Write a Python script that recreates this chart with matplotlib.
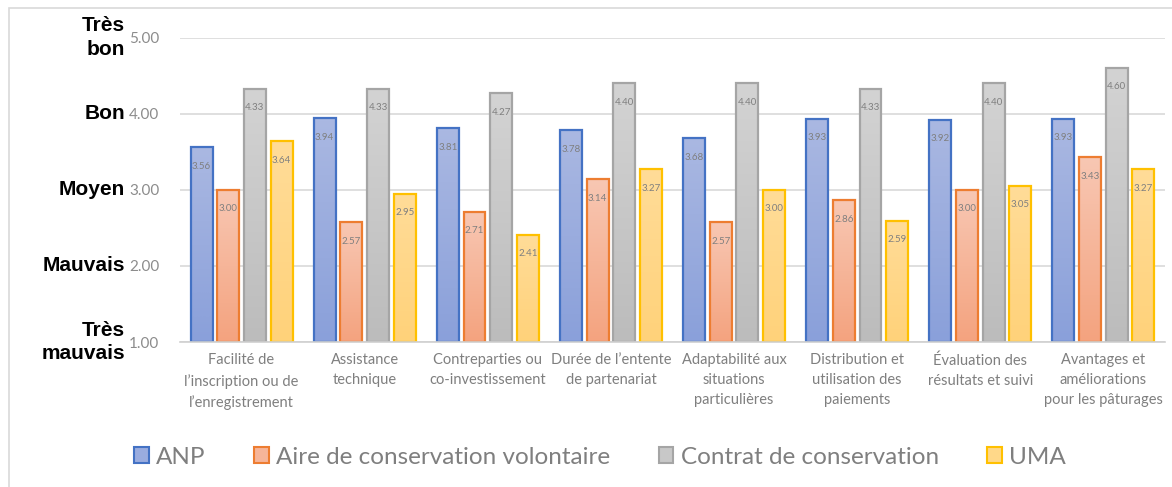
import numpy as np
import matplotlib
matplotlib.use("Agg")
import matplotlib.pyplot as plt
from matplotlib.colors import LinearSegmentedColormap
from matplotlib.patches import Patch, Rectangle

categories = [
    "Facilité de\nl’inscription ou de\nl’enregistrement",
    "Assistance\ntechnique",
    "Contreparties ou\nco-investissement",
    "Durée de l’entente\nde partenariat",
    "Adaptabilité aux\nsituations\nparticulières",
    "Distribution et\nutilisation des\npaiements",
    "Évaluation des\nrésultats et suivi",
    "Avantages et\naméliorations\npour les pâturages",
]
series_names = ["ANP", "Aire de conservation volontaire", "Contrat de conservation", "UMA"]
anp = [3.56, 3.94, 3.81, 3.78, 3.68, 3.93, 3.92, 3.93]
aire = [3.00, 2.57, 2.71, 3.14, 2.57, 2.86, 3.00, 3.43]
contrat = [4.33, 4.33, 4.27, 4.40, 4.40, 4.33, 4.40, 4.60]
uma = [3.64, 2.95, 2.41, 3.27, 3.00, 2.59, 3.05, 3.27]
y_ticks = [1.0, 2.0, 3.0, 4.0, 5.0]
y_level_labels = ["Très\nmauvais", "Mauvais", "Moyen", "Bon", "Très\nbon"]

series = [anp, aire, contrat, uma]
edge_colors = ["#4472c4", "#ed7d31", "#a5a5a5", "#ffc000"]
top_colors = ["#aab8e2", "#f8c7b3", "#d3d3d3", "#ffdc98"]
bottom_colors = ["#8aa0da", "#f4a37f", "#bcbcbc", "#ffd27a"]
mid_colors = ["#9aacdf", "#f6b599", "#c8c8c8", "#ffd889"]

W, H = 1172, 487
ax_bottom = 1 - 342 / H
ax_height = (342 - 37.5) / H
fig = plt.figure(figsize=(W / 100, H / 100), dpi=100)
ax = fig.add_axes([180 / W, ax_bottom, (1165 - 180) / W, ax_height])

font = "Lato"
x = np.arange(len(categories))
offsets = [-0.325, -0.108, 0.108, 0.325]
bw = 0.178

for si, vals in enumerate(series):
    cmap = LinearSegmentedColormap.from_list("g%d" % si, [bottom_colors[si], top_colors[si]])
    for xi, v in zip(x, vals):
        cx = xi + offsets[si]
        ax.imshow(np.linspace(0, 1, 64).reshape(-1, 1), extent=[cx - bw / 2, cx + bw / 2, 1.0, v],
                  origin="lower", aspect="auto", cmap=cmap, zorder=2, interpolation="bilinear")
        ax.add_patch(Rectangle((cx - bw / 2, 1.0), bw, v - 1.0, facecolor="none",
                               edgecolor=edge_colors[si], linewidth=1.6, zorder=3))
        ax.text(cx, v - 0.25, "%.2f" % v, ha="center", va="center", fontsize=7,
                color="#7f7f7f", family=font, zorder=4)

ax.set_xlim(-0.5, len(categories) - 0.5)
ax.set_ylim(1, 5)
ax.set_aspect("auto")
ax.set_yticks(y_ticks)
ax.set_yticklabels(["%.2f" % t for t in y_ticks], fontsize=11, color="#8c8c8c", family=font)
ax.set_xticks(x)
ax.set_xticklabels(categories, fontsize=10.5, color="#7f7f7f", family=font, linespacing=1.55)
ax.tick_params(axis="both", length=0)
ax.tick_params(axis="y", pad=15)
ax.tick_params(axis="x", pad=8)
ax.yaxis.grid(True, color="#d9d9d9", linewidth=1.2, zorder=0)
ax.set_axisbelow(True)
for s in ["top", "right", "left"]:
    ax.spines[s].set_visible(False)
ax.spines["bottom"].set_color("#d0d0d0")
ax.spines["bottom"].set_linewidth(1.2)
ax.spines["bottom"].set_zorder(5)

for t, lab in zip(y_ticks, y_level_labels):
    yf = ax_bottom + (t - 1.0) / 4.0 * ax_height
    fig.text(125 / W, yf, lab, ha="right", va="center", fontsize=15, fontweight="bold",
             color="black", family="Liberation Sans", linespacing=1.3, multialignment="right")

handles = [Patch(facecolor=mid_colors[i], edgecolor=edge_colors[i], linewidth=1.5, label=series_names[i])
           for i in range(4)]
leg = fig.legend(handles=handles, loc="center", bbox_to_anchor=(600 / W, 1 - 457 / H), ncol=4,
                 frameon=False, handlelength=0.6, handleheight=0.6, handletextpad=0.3,
                 columnspacing=2.0, prop={"family": font, "size": 17.5})
for t in leg.get_texts():
    t.set_color("#7f7f7f")

fig.patches.append(Rectangle((8.5 / W, -0.1), 2.0, 1.1 - 7.5 / H, transform=fig.transFigure,
                             fill=False, edgecolor="#d9d9d9", linewidth=1.2))

fig.savefig("out.png", dpi=100)
